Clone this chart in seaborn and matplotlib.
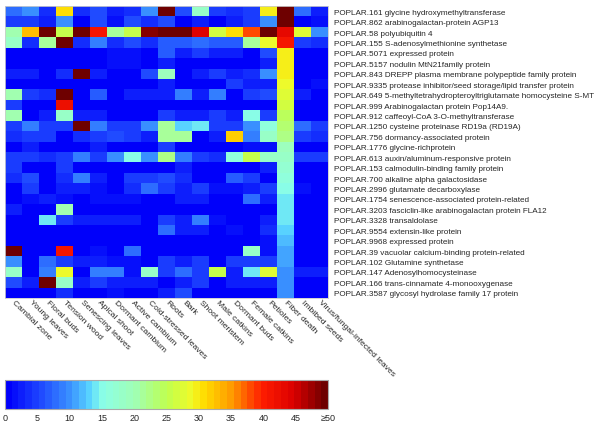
import numpy as np
import pandas as pd
import matplotlib
matplotlib.use("Agg")
import matplotlib.pyplot as plt
import seaborn as sns
from matplotlib.colors import LinearSegmentedColormap

tissues = ["Cambial zone", "Young leaves", "Floral buds", "Tension wood", "Senescing leaves",
           "Apical shoot", "Dormant cambium", "Active cambium", "Cold-stressed leaves", "Roots",
           "Bark", "Shoot meristem", "Male catkins", "Dormant buds", "Female catkins", "Petioles",
           "Fiber death", "Imbibed seeds", "Virus/fungal-infected leaves"]

genes = ["POPLAR.161 glycine hydroxymethyltransferase",
         "POPLAR.862 arabinogalactan-protein AGP13",
         "POPLAR.58 polyubiquitin 4",
         "POPLAR.155 S-adenosylmethionine synthetase",
         "POPLAR.5071 expressed protein",
         "POPLAR.5157 nodulin MtN21family protein",
         "POPLAR.843 DREPP plasma membrane polypeptide family protein",
         "POPLAR.9335 protease inhibitor/seed storage/lipid transfer protein",
         "POPLAR.649 5-methyltetrahydropteroyltriglutamate homocysteine S-MT",
         "POPLAR.999 Arabinogalactan protein Pop14A9.",
         "POPLAR.912 caffeoyl-CoA 3-O-methyltransferase",
         "POPLAR.1250 cysteine proteinase RD19a (RD19A)",
         "POPLAR.756 dormancy-associated protein",
         "POPLAR.1776 glycine-richprotein",
         "POPLAR.613 auxin/aluminum-responsive protein",
         "POPLAR.153 calmodulin-binding family protein",
         "POPLAR.700 alkaline alpha galactosidase",
         "POPLAR.2996 glutamate decarboxylase",
         "POPLAR.1754 senescence-associated protein-related",
         "POPLAR.3203 fasciclin-like arabinogalactan protein FLA12",
         "POPLAR.3328 transaldolase",
         "POPLAR.9554 extensin-like protein",
         "POPLAR.9968 expressed protein",
         "POPLAR.39 vacuolar calcium-binding protein-related",
         "POPLAR.102 Glutamine synthetase",
         "POPLAR.147 Adenosylhomocysteinase",
         "POPLAR.166 trans-cinnamate 4-monooxygenase",
         "POPLAR.3587 glycosyl hydrolase family 17 protein"]

values = [
    [8, 10, 4, 31, 4, 6, 3, 4, 10, 50, 6, 18, 5, 4, 5, 30, 50, 8, 3],
    [5, 5, 3, 10, 1, 6, 2, 6, 4, 6, 1, 3, 1, 3, 5, 10, 50, 1, 2],
    [20, 33, 50, 26, 49, 41, 21, 25, 48, 50, 50, 44, 27, 31, 38, 50, 43, 28, 10],
    [18, 4, 21, 50, 4, 9, 4, 6, 4, 7, 7, 8, 7, 7, 21, 29, 41, 5, 4],
    [1, 1, 1, 1, 1, 1, 2, 2, 1, 7, 3, 5, 3, 3, 1, 6, 30, 1, 1],
    [0, 0, 0, 0, 0, 0, 2, 2, 0, 3, 1, 1, 1, 1, 1, 3, 30, 0, 0],
    [3, 3, 1, 4, 50, 3, 1, 1, 6, 19, 1, 3, 5, 3, 4, 10, 30, 1, 1],
    [1, 1, 1, 1, 1, 1, 1, 1, 1, 3, 1, 1, 1, 5, 3, 3, 29, 1, 2],
    [20, 5, 4, 50, 1, 7, 1, 3, 3, 3, 9, 3, 9, 1, 5, 6, 28, 3, 1],
    [5, 1, 1, 42, 1, 1, 1, 1, 1, 1, 1, 1, 1, 1, 1, 1, 27, 1, 1],
    [20, 1, 3, 18, 3, 3, 1, 1, 1, 5, 3, 3, 5, 3, 15, 5, 24, 1, 1],
    [5, 9, 5, 5, 50, 9, 5, 5, 10, 21, 13, 14, 5, 5, 10, 16, 23, 8, 5],
    [4, 5, 5, 1, 4, 5, 6, 5, 3, 21, 21, 1, 3, 32, 9, 18, 22, 5, 4],
    [1, 3, 1, 1, 1, 3, 1, 1, 1, 5, 1, 1, 1, 1, 2, 2, 19, 1, 1],
    [5, 5, 4, 5, 9, 5, 10, 15, 10, 22, 9, 5, 4, 16, 26, 18, 18, 5, 5],
    [5, 1, 1, 5, 1, 1, 1, 1, 1, 1, 3, 1, 1, 1, 1, 3, 17, 1, 1],
    [4, 6, 1, 4, 9, 3, 1, 5, 5, 6, 4, 1, 1, 7, 5, 1, 16, 1, 1],
    [1, 5, 1, 3, 3, 2, 1, 4, 8, 5, 3, 5, 2, 2, 3, 5, 15, 2, 1],
    [1, 2, 3, 2, 1, 2, 2, 2, 1, 1, 3, 3, 1, 1, 8, 3, 14.5, 1, 1],
    [3, 1, 1, 20, 1, 1, 1, 1, 1, 1, 1, 1, 1, 1, 1, 1, 14, 1, 1],
    [1, 1, 14, 5, 3, 3, 3, 3, 1, 5, 3, 9, 2, 1, 1, 3, 14, 1, 1],
    [1, 1, 1, 1, 1, 1, 1, 1, 1, 8, 3, 3, 1, 2, 1, 4, 13, 1, 1],
    [1, 1, 1, 1, 1, 1, 1, 1, 1, 1, 1, 1, 1, 1, 1, 2, 12, 1, 1],
    [50, 1, 1, 41, 1, 2, 1, 8, 1, 1, 1, 1, 1, 1, 18, 2, 11, 1, 1],
    [10, 1, 8, 5, 3, 3, 2, 2, 1, 5, 3, 5, 1, 5, 5, 5, 10.5, 1, 1],
    [18, 1, 9, 29, 1, 9, 9, 2, 18, 5, 8, 5, 25, 3, 14, 28, 10, 3, 3],
    [6, 3, 50, 18, 3, 5, 3, 3, 3, 1, 3, 5, 1, 3, 3, 3, 10, 1, 1],
    [1, 1, 1, 4, 1, 1, 2, 1, 1, 3, 6, 1, 1, 1, 1, 1, 10, 1, 1],
]

cbar_ticks = [0, 5, 10, 15, 20, 25, 30, 35, 40, 45, 50]
cbar_ticklabels = ["0", "5", "10", "15", "20", "25", "30", "35", "40", "45", "\u226550"]

anchors = [(0.00, (0, 0, 250)), (0.10, (30, 70, 255)), (0.20, (60, 150, 255)),
           (0.26, (90, 215, 255)), (0.30, (140, 255, 230)), (0.40, (160, 255, 180)),
           (0.50, (190, 255, 80)), (0.58, (240, 250, 40)), (0.62, (255, 220, 0)),
           (0.70, (255, 160, 0)), (0.80, (255, 30, 0)), (0.90, (220, 0, 0)),
           (1.00, (110, 0, 0))]
cmap = LinearSegmentedColormap.from_list(
    "pjet", [(p, tuple(c / 255 for c in rgb)) for p, rgb in anchors], N=48)

df = pd.DataFrame(values, index=genes, columns=tissues)

sns.set_style("white")
plt.rcParams["font.family"] = ["Liberation Sans", "DejaVu Sans"]

fig = plt.figure(figsize=(6.0, 4.31), dpi=100)
ax = fig.add_axes([5 / 600, 1 - 299 / 431, 323 / 600, 292 / 431])
cax = fig.add_axes([5 / 600, 1 - 410 / 431, 323 / 600, 29 / 431])

sns.heatmap(df, ax=ax, cmap=cmap, vmin=0, vmax=50, cbar_ax=cax,
            cbar_kws={"orientation": "horizontal", "ticks": cbar_ticks},
            xticklabels=True, yticklabels=True)

ax.yaxis.tick_right()
ax.tick_params(axis="y", length=0, pad=4, labelsize=5.9, labelrotation=0)
ax.tick_params(axis="x", length=0, pad=2, labelsize=6.1)
for lbl in ax.get_yticklabels():
    lbl.set_ha("left")
for lbl in ax.get_xticklabels():
    lbl.set_rotation(-45)
    lbl.set_ha("left")
    lbl.set_va("center")
    lbl.set_rotation_mode("anchor")
ax.set_xlabel("")
ax.set_ylabel("")
for s in ax.spines.values():
    s.set_visible(True)
    s.set_color("#cccccc")
    s.set_linewidth(0.6)

cbar = ax.collections[0].colorbar
cbar.set_ticklabels(cbar_ticklabels)
cbar.outline.set_edgecolor("#aaaaaa")
cbar.outline.set_linewidth(0.8)
cax.tick_params(axis="x", direction="in", length=2, width=0.6, top=True, bottom=False,
                labelbottom=True, labelsize=6.5, pad=3, color="#333333")

fig.savefig("out.png", dpi=100)
